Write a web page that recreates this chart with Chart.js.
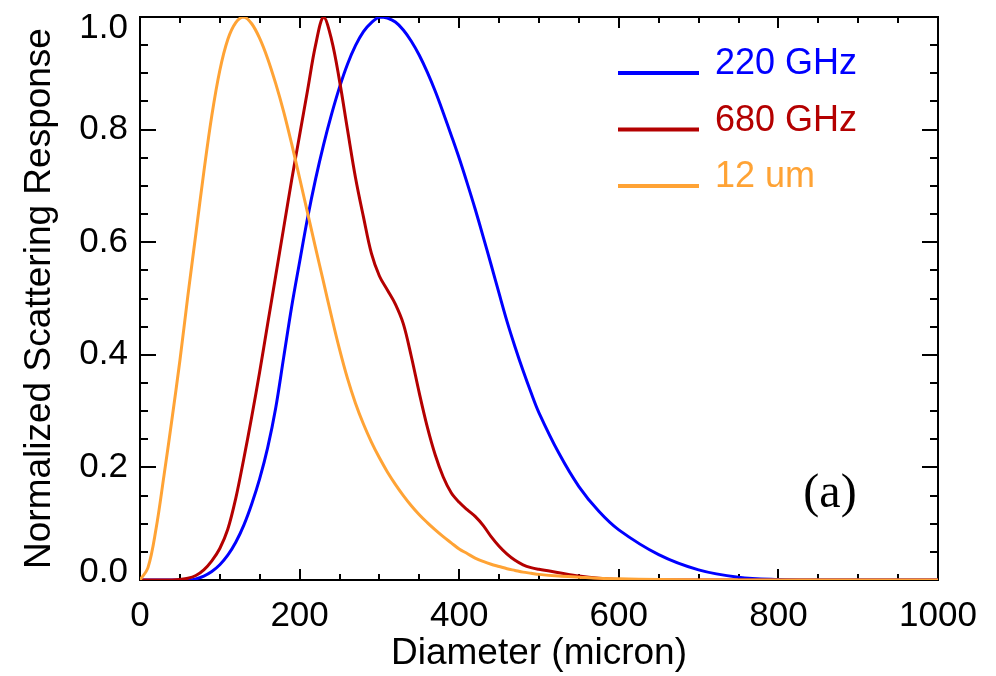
<!DOCTYPE html>
<html>
<head>
<meta charset="utf-8">
<script src="https://cdn.jsdelivr.net/npm/chart.js@4.4.0/dist/chart.umd.min.js"></script>
<style>
  html, body { margin: 0; padding: 0; background: #fff; }
</style>
</head>
<body>
<canvas id="chart" width="996" height="676"></canvas>
<script>
const diameters = [0, 10, 20, 30, 40, 50, 60, 70, 80, 90,
    100, 110, 120, 130, 140, 150, 160, 170, 180, 190,
    200, 210, 220, 230, 240, 250, 260, 270, 280, 290,
    300, 310, 320, 330, 340, 350, 360, 370, 380, 390,
    400, 410, 420, 430, 440, 450, 460, 470, 480, 490,
    500, 525, 550, 575, 600, 650, 700, 750, 800, 850, 900, 950, 1000]

const ghz220 = [0, 0, 0, 0, 0, 0, 0, 0.002, 0.007, 0.015,
    0.027, 0.044, 0.067, 0.097, 0.135, 0.18, 0.235, 0.305, 0.395, 0.485,
    0.565, 0.643, 0.712, 0.773, 0.827, 0.875, 0.916, 0.949, 0.974, 0.99,
    1.0, 0.998, 0.991, 0.977, 0.957, 0.932, 0.902, 0.868, 0.83, 0.79,
    0.749, 0.705, 0.659, 0.61, 0.56, 0.509, 0.459, 0.414, 0.372, 0.333,
    0.297, 0.225, 0.166, 0.122, 0.089, 0.045, 0.018, 0.005, 0.001, 0, 0, 0, 0]

const ghz680 = [0, 0, 0, 0, 0, 0.001, 0.003, 0.008, 0.018, 0.034,
    0.056, 0.09, 0.145, 0.215, 0.29, 0.37, 0.455, 0.54, 0.625, 0.71,
    0.79, 0.87, 0.95, 1.0, 0.96, 0.887, 0.8, 0.715, 0.645, 0.58,
    0.54, 0.515, 0.49, 0.455, 0.397, 0.332, 0.272, 0.222, 0.183, 0.155,
    0.138, 0.125, 0.113, 0.097, 0.077, 0.06, 0.046, 0.035, 0.027, 0.022,
    0.019, 0.013, 0.007, 0.003, 0.001, 0, 0, 0, 0, 0, 0, 0, 0]

const um12 = [0, 0.022, 0.09, 0.185, 0.285, 0.39, 0.505, 0.615, 0.725, 0.825,
    0.905, 0.96, 0.99, 1.0, 0.988, 0.962, 0.926, 0.882, 0.832, 0.775,
    0.714, 0.652, 0.59, 0.529, 0.468, 0.41, 0.358, 0.314, 0.277, 0.245,
    0.217, 0.192, 0.17, 0.15, 0.132, 0.116, 0.102, 0.089, 0.077, 0.066,
    0.055, 0.047, 0.039, 0.033, 0.028, 0.024, 0.02, 0.017, 0.014, 0.012,
    0.01, 0.007, 0.005, 0.003, 0.002, 0.001, 0, 0, 0, 0, 0, 0, 0]

const seriesNames = ['220 GHz', '680 GHz', '12 um']
const seriesColors = ['#0000ff', '#b40000', '#ffa335']
const xTicks = [0, 200, 400, 600, 800, 1000]
const yTicks = [0, 0.2, 0.4, 0.6, 0.8, 1.0]

const toPoints = values => diameters.map((d, i) => ({ x: d, y: values[i] }))
const sansFont = '"Liberation Sans", Arial, Helvetica, sans-serif'

// IDL style frame: box, inward ticks on all four sides, y labels, legend, panel tag
const frame = {
    id: 'frame',
    beforeDatasetsDraw(chart) {
        const { ctx, chartArea: a, scales: { x, y } } = chart
        ctx.save()
        ctx.strokeStyle = '#000'
        ctx.lineWidth = 2
        ctx.strokeRect(a.left, a.top, a.right - a.left, a.bottom - a.top)
        ctx.beginPath()
        for (let v = 50; v < 1000; v += 50) {
            const px = Math.round(x.getPixelForValue(v))
            const len = v % 200 === 0 ? 11 : 6
            ctx.moveTo(px, a.bottom); ctx.lineTo(px, a.bottom - len)
            ctx.moveTo(px, a.top); ctx.lineTo(px, a.top + len)
        }
        for (let k = 1; k < 20; k++) {
            const py = Math.round(y.getPixelForValue(k * 0.05))
            const len = k % 4 === 0 ? 16 : 8
            ctx.moveTo(a.left, py); ctx.lineTo(a.left + len, py)
            ctx.moveTo(a.right, py); ctx.lineTo(a.right - len, py)
        }
        ctx.stroke()

        ctx.fillStyle = '#000'
        ctx.font = '35px ' + sansFont
        ctx.textAlign = 'right'
        ctx.textBaseline = 'middle'
        yTicks.forEach(v => {
            let py = y.getPixelForValue(v)
            py = Math.min(Math.max(py, a.top + 11), a.bottom - 8)
            ctx.fillText(v.toFixed(1), a.left - 12, py)
        })
        ctx.restore()
    },
    afterDraw(chart) {
        const { ctx, chartArea: a } = chart
        ctx.save()
        chart.data.datasets.forEach((ds, i) => {
            const ly = a.top + 56 + i * 56.5
            ctx.strokeStyle = ds.borderColor
            ctx.lineWidth = 4
            ctx.beginPath()
            ctx.moveTo(a.left + 478, ly)
            ctx.lineTo(a.left + 559, ly)
            ctx.stroke()
            ctx.fillStyle = ds.borderColor
            ctx.font = '36px ' + sansFont
            ctx.textAlign = 'left'
            ctx.textBaseline = 'alphabetic'
            ctx.fillText(ds.label, a.left + 575, ly + 1)
        })
        ctx.fillStyle = '#000'
        ctx.font = '48px "Liberation Serif", "Times New Roman", serif'
        ctx.textAlign = 'center'
        ctx.textBaseline = 'middle'
        ctx.fillText('(a)', 830, 494)
        ctx.restore()
    }
}

new Chart(document.getElementById('chart'), {
    type: 'line',
    data: {
        datasets: [
            { label: seriesNames[0], data: toPoints(ghz220), borderColor: seriesColors[0], order: 2 },
            { label: seriesNames[1], data: toPoints(ghz680), borderColor: seriesColors[1], order: 1 },
            { label: seriesNames[2], data: toPoints(um12), borderColor: seriesColors[2], order: 0 }
        ]
    },
    options: {
        responsive: false,
        animation: false,
        devicePixelRatio: 1,
        layout: { padding: { left: 0, right: 58, top: 17, bottom: 0 } },
        elements: {
            line: { borderWidth: 3, tension: 0.35 },
            point: { radius: 0 }
        },
        plugins: { legend: { display: false }, tooltip: { enabled: false } },
        scales: {
            x: {
                type: 'linear',
                min: 0,
                max: 1000,
                afterBuildTicks: scale => { scale.ticks = xTicks.map(v => ({ value: v })) },
                ticks: {
                    color: '#000',
                    font: { size: 35, family: sansFont },
                    padding: 15,
                    maxRotation: 0,
                    callback: v => String(v)
                },
                grid: { display: false, drawTicks: false },
                border: { display: false },
                title: {
                    display: true,
                    text: 'Diameter (micron)',
                    color: '#000',
                    font: { size: 37, family: sansFont },
                    padding: { top: 0, bottom: 0 }
                },
                afterFit: scale => { scale.height = 96 }
            },
            y: {
                min: 0,
                max: 1,
                ticks: { display: false },
                grid: { display: false, drawTicks: false },
                border: { display: false },
                title: {
                    display: true,
                    text: 'Normalized Scattering Response',
                    color: '#000',
                    font: { size: 37, family: sansFont },
                    padding: { top: 18, bottom: 0 }
                },
                afterFit: scale => { scale.width = 140 }
            }
        }
    },
    plugins: [frame]
})
</script>
</body>
</html>
